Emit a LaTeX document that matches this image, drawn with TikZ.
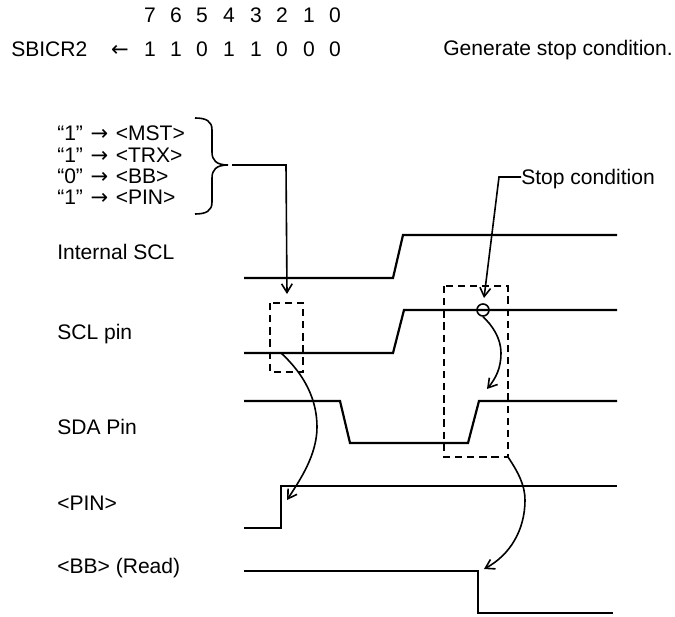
\documentclass[tikz,border=0pt]{standalone}
\usepackage{fontspec}
\setmainfont{Liberation Sans}
\newfontfamily\arrowfont{DejaVu Sans}
\newcommand{\rgt}{\makebox[1em]{\arrowfont →}}
\newcommand{\lft}{\makebox[1em]{\arrowfont ←}}
\usetikzlibrary{arrows.meta}
\tikzset{
  x=0.75pt,y=-0.75pt,
  lbl/.style={anchor=base west,inner sep=0pt,font=\fontsize{15.8pt}{18pt}\selectfont},
  dig/.style={anchor=base,inner sep=0pt,font=\fontsize{15.8pt}{18pt}\selectfont},
  wave/.style={line width=1.65pt,line join=miter},
  dbox/.style={draw,line width=1.2pt,dash pattern=on 5.5pt off 3.6pt},
  conn/.style={line width=1.2pt},
  arr/.style={conn,-{Straight Barb[length=6.5pt,width=8pt,line width=1.2pt]}},
}
\begin{document}
\begin{tikzpicture}
\useasboundingbox (0,0) rectangle (675,617);
% header
\foreach \n/\x/\t/\b in {a/150/7/1,b/176/6/1,c/202/5/0,d/229/4/1,e/256/3/1,f/282/2/0,g/309/1/0,h/335/0/0}{
  \node[dig] (top\n) at (\x,23) {\t};
  \node[dig] (val\n) at (\x,56.5) {\b};
}
\node[lbl] (reg) at (11,56.5) {SBICR2};
\node[lbl,anchor=base] (larr) at (120,56.5) {\lft};
\node[lbl] (gen) at (443,56) {Generate stop condition.};
% settings
\node[lbl] (s1) at (57,140) {“1” \rgt{} <MST>};
\node[lbl] (s2) at (57,162) {“1” \rgt{} <TRX>};
\node[lbl] (s3) at (57,183) {“0” \rgt{} <BB>};
\node[lbl] (s4) at (57,204) {“1” \rgt{} <PIN>};
\draw[line width=1.2pt] (195,118) .. controls (206,118) and (212,121) .. (212,130)
  -- (212,152) .. controls (212,160) and (216,165) .. (228,165)
  .. controls (216,165) and (212,170) .. (212,178) -- (212,202)
  .. controls (212,211) and (206,214) .. (195,214);
\coordinate (bt) at (232,165);
\coordinate (bc) at (286,165);
\coordinate (bd) at (287,294);
\draw[arr] (bt) -- (bc) -- (bd);
% labels
\node[lbl] (l1) at (57,259) {Internal SCL};
\node[lbl] (l2) at (57,339) {SCL pin};
\node[lbl] (l3) at (57,434.5) {SDA Pin};
\node[lbl] (l4) at (57,510) {<PIN>};
\node[lbl] (l5) at (57,573) {<BB> (Read)};
\node[lbl] (stop) at (521,184) {Stop condition};
% waves
\draw[wave] (244,278) -- (393,278) -- (403,235) -- (617,235);
\draw[wave] (244,353) -- (393,353) -- (404,310) -- (617,310);
\draw[wave] (244,401) -- (340,401) -- (350,443) -- (468,443) -- (479,401) -- (617,401);
\draw[wave] (244,528) -- (281,528) -- (281,486) -- (617,486);
\draw[wave] (244,571) -- (478,571) -- (478,613) -- (613,613);
% dashed boxes
\draw[dbox] (270,303) rectangle (303,372);
\draw[dbox] (444,286) rectangle (508,457);
% stop condition marker
\node[draw,circle,line width=1.2pt,minimum size=9pt,inner sep=0pt] (mk) at (483,310) {};
\coordinate (st) at (521,177);
\coordinate (sc) at (499,177);
\coordinate (sd) at (484,298);
\draw[arr] (st) -- (sc) -- (sd);
% curves
\coordinate (c1) at (281,353);
\coordinate (c1e) at (287,500);
\draw[arr] (c1) .. controls (305,375) and (317,400) .. (317,427) .. controls (317,455) and (300,480) .. (c1e);
\draw[arr] (mk.south) .. controls (492,325) and (501,338) .. (501,353) .. controls (501,368) and (496,378) .. (487,389);
\coordinate (c3) at (508,457);
\coordinate (c3e) at (484,569);
\draw[arr] (c3) .. controls (518,472) and (525,485) .. (525,500) .. controls (525,530) and (510,555) .. (c3e);
\end{tikzpicture}
\end{document}
